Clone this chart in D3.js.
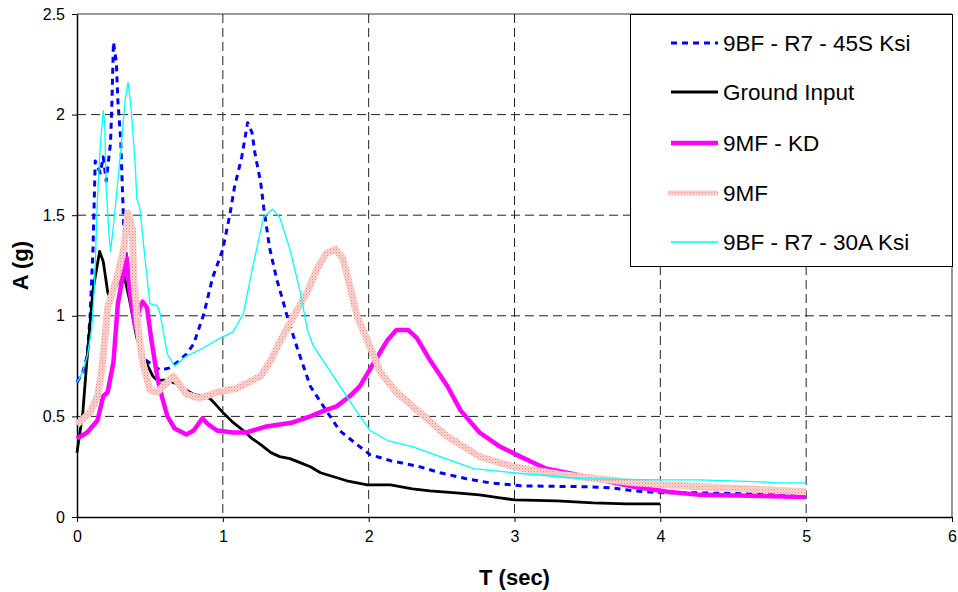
<!DOCTYPE html>
<html>
<head>
<meta charset="UTF-8">
<title></title>
<script src="https://cdnjs.cloudflare.com/ajax/libs/d3/7.8.5/d3.min.js"></script>
<style>
  body { margin: 0; background: #fff; }
  text { font-family: "Liberation Sans", Arial, sans-serif; }
</style>
</head>
<body>
<script>

// [T (sec), A (g)]
var bf45 = [[0,0.67],[0.04,0.72],[0.07,0.8],[0.09,1.0],[0.11,1.34],[0.125,1.77],[0.16,1.71],[0.18,1.79],[0.2,1.67],[0.23,1.86],[0.24,2.07],[0.25,2.36],[0.27,2.26],[0.28,2.07],[0.3,1.87],[0.31,1.66],[0.32,1.45],[0.35,1.2],[0.39,0.98],[0.43,0.85],[0.47,0.78],[0.53,0.75],[0.57,0.73],[0.63,0.74],[0.69,0.77],[0.75,0.81],[0.8,0.86],[0.87,1.01],[0.93,1.19],[1.0,1.33],[1.05,1.51],[1.08,1.64],[1.13,1.79],[1.17,1.96],[1.2,1.91],[1.22,1.81],[1.26,1.66],[1.28,1.54],[1.32,1.34],[1.37,1.18],[1.41,1.08],[1.44,1.0],[1.51,0.84],[1.6,0.65],[1.69,0.55],[1.8,0.43],[1.92,0.36],[2.01,0.31],[2.15,0.28],[2.22,0.27],[2.35,0.25],[2.49,0.22],[2.67,0.19],[2.83,0.17],[3.04,0.155],[3.52,0.15],[3.66,0.145],[3.82,0.13],[4.02,0.12],[4.27,0.12],[4.6,0.115],[4.84,0.11],[5.0,0.11]];

var ground = [[0,0.32],[0.04,0.52],[0.07,0.8],[0.11,1.13],[0.155,1.32],[0.18,1.27],[0.21,1.12],[0.23,1.08],[0.27,1.15],[0.32,1.21],[0.36,1.08],[0.41,0.89],[0.45,0.8],[0.48,0.76],[0.52,0.7],[0.55,0.68],[0.62,0.68],[0.69,0.66],[0.75,0.63],[0.8,0.61],[0.86,0.6],[0.91,0.59],[0.95,0.56],[1.0,0.52],[1.07,0.47],[1.14,0.43],[1.2,0.39],[1.26,0.36],[1.33,0.32],[1.39,0.3],[1.46,0.29],[1.53,0.27],[1.6,0.25],[1.67,0.22],[1.76,0.2],[1.85,0.18],[1.92,0.17],[1.99,0.16],[2.15,0.16],[2.3,0.14],[2.42,0.13],[2.6,0.12],[2.76,0.11],[2.9,0.095],[3.0,0.085],[3.29,0.08],[3.54,0.07],[3.77,0.065],[4.0,0.065]];

var mfkd = [[0,0.39],[0.07,0.42],[0.14,0.48],[0.18,0.6],[0.21,0.62],[0.25,0.77],[0.28,1.06],[0.31,1.18],[0.34,1.29],[0.36,1.13],[0.4,0.94],[0.43,1.04],[0.45,1.07],[0.48,1.04],[0.51,0.88],[0.55,0.7],[0.57,0.63],[0.62,0.5],[0.67,0.44],[0.75,0.41],[0.8,0.43],[0.86,0.49],[0.9,0.46],[0.96,0.43],[1.07,0.42],[1.16,0.42],[1.3,0.45],[1.48,0.47],[1.6,0.5],[1.7,0.53],[1.78,0.55],[1.87,0.6],[1.94,0.65],[2.03,0.76],[2.08,0.82],[2.13,0.88],[2.19,0.93],[2.27,0.93],[2.33,0.89],[2.42,0.78],[2.54,0.65],[2.63,0.53],[2.76,0.42],[2.9,0.35],[3.04,0.3],[3.13,0.27],[3.22,0.24],[3.36,0.22],[3.59,0.185],[3.82,0.15],[4.05,0.125],[4.27,0.11],[4.62,0.105],[5.0,0.1]];

var mf = [[0,0.46],[0.09,0.52],[0.14,0.6],[0.17,0.73],[0.19,0.88],[0.21,1.04],[0.27,1.18],[0.32,1.33],[0.35,1.51],[0.38,1.43],[0.39,1.18],[0.42,0.93],[0.45,0.77],[0.5,0.63],[0.55,0.62],[0.59,0.65],[0.66,0.7],[0.71,0.65],[0.75,0.61],[0.84,0.59],[0.96,0.62],[1.1,0.64],[1.26,0.7],[1.33,0.78],[1.39,0.87],[1.48,0.99],[1.58,1.12],[1.65,1.24],[1.71,1.31],[1.77,1.33],[1.82,1.29],[1.85,1.21],[1.89,1.09],[1.92,1.0],[1.99,0.88],[2.08,0.72],[2.19,0.62],[2.35,0.52],[2.54,0.4],[2.76,0.3],[2.99,0.25],[3.33,0.21],[3.82,0.17],[4.27,0.15],[4.73,0.135],[5.0,0.125]];

var bf30 = [[0,0.67],[0.04,0.72],[0.07,0.8],[0.1,0.93],[0.12,1.15],[0.14,1.58],[0.16,1.85],[0.18,2.02],[0.19,1.96],[0.2,1.64],[0.22,1.4],[0.23,1.32],[0.25,1.45],[0.28,1.67],[0.3,1.82],[0.33,2.07],[0.35,2.16],[0.37,2.04],[0.4,1.74],[0.41,1.58],[0.43,1.54],[0.47,1.26],[0.5,1.06],[0.55,1.05],[0.57,1.01],[0.62,0.81],[0.67,0.75],[0.75,0.8],[0.84,0.83],[0.96,0.88],[1.07,0.92],[1.14,1.01],[1.21,1.26],[1.28,1.49],[1.34,1.53],[1.39,1.49],[1.46,1.33],[1.53,1.12],[1.58,0.93],[1.62,0.85],[1.74,0.72],[1.85,0.6],[1.94,0.5],[2.01,0.43],[2.13,0.38],[2.3,0.35],[2.49,0.3],[2.72,0.24],[2.99,0.22],[3.47,0.19],[4.0,0.185],[4.27,0.185],[4.68,0.175],[4.8,0.17],[5.0,0.17]];

var seriesNames = ["9BF - R7 - 45S Ksi", "Ground Input", "9MF - KD", "9MF", "9BF - R7 - 30A Ksi"];
var xTicks = [0, 1, 2, 3, 4, 5, 6];
var yTicks = [0, 0.5, 1, 1.5, 2, 2.5];

var width = 958, height = 592;
var pLeft = 77, pRight = 952, pTop = 14, pBottom = 517;

var svg = d3.select("body").append("svg")
    .attr("width", width)
    .attr("height", height);

// hatched pattern for the 9MF line (light salmon with scattered red dots)
var defs = svg.append("defs");
var pat = defs.append("pattern")
    .attr("id", "hatch")
    .attr("patternUnits", "userSpaceOnUse")
    .attr("width", 3)
    .attr("height", 3);
pat.append("rect").attr("width", 3).attr("height", 3).attr("fill", "#fbd4d0");
pat.append("rect").attr("x", 0).attr("y", 0).attr("width", 1).attr("height", 1).attr("fill", "#f08a86");
pat.append("rect").attr("x", 1.5).attr("y", 1.5).attr("width", 1).attr("height", 1).attr("fill", "#f4a4a0");

var x = d3.scaleLinear().domain([0, 6]).range([pLeft, pRight]);
var y = d3.scaleLinear().domain([0, 2.5]).range([pBottom, pTop]);

// grid
svg.append("g").selectAll("line")
    .data(yTicks.filter(function(d){ return d > 0 && d < 2.5; }))
    .enter().append("line")
    .attr("x1", pLeft).attr("x2", pRight)
    .attr("y1", function(d){ return y(d); })
    .attr("y2", function(d){ return y(d); })
    .attr("stroke", "#222")
    .attr("stroke-dasharray", "9,5");

svg.append("g").selectAll("line")
    .data(xTicks.filter(function(d){ return d > 0 && d < 6; }))
    .enter().append("line")
    .attr("y1", pTop).attr("y2", pBottom)
    .attr("x1", function(d){ return x(d); })
    .attr("x2", function(d){ return x(d); })
    .attr("stroke", "#222")
    .attr("stroke-dasharray", "9,5");

// top / right frame
svg.append("line").attr("x1", pLeft).attr("x2", pRight).attr("y1", pTop).attr("y2", pTop)
    .attr("stroke", "#333");
svg.append("line").attr("x1", pRight).attr("x2", pRight).attr("y1", pTop).attr("y2", pBottom)
    .attr("stroke", "#333");

// axes
var xAxis = svg.append("g")
    .attr("transform", "translate(0," + pBottom + ")")
    .call(d3.axisBottom(x).tickValues(xTicks).tickFormat(d3.format("d")).tickSizeInner(5).tickSizeOuter(0).tickPadding(9));
var yAxis = svg.append("g")
    .attr("transform", "translate(" + pLeft + ",0)")
    .call(d3.axisLeft(y).tickValues(yTicks).tickFormat(function(d){ return String(d); }).tickSizeInner(5).tickSizeOuter(0).tickPadding(7));

[xAxis, yAxis].forEach(function(a){
    a.attr("font-size", 16).attr("font-family", "Liberation Sans, Arial, sans-serif");
    a.select(".domain").attr("stroke", "#000").attr("stroke-width", 1.5);
    a.selectAll(".tick line").attr("stroke", "#000");
    a.selectAll("text").attr("fill", "#000");
});

svg.append("text")
    .attr("x", (pLeft + pRight) / 2).attr("y", 585)
    .attr("text-anchor", "middle")
    .attr("font-size", 22).attr("font-weight", "bold")
    .text("T (sec)");

svg.append("text")
    .attr("transform", "translate(28," + ((pTop + pBottom) / 2) + ") rotate(-90)")
    .attr("text-anchor", "middle")
    .attr("font-size", 22).attr("font-weight", "bold")
    .text("A (g)");

// series
var styles = [
    { data: bf45, stroke: "#0000ff", width: 3, dash: "6,5" },
    { data: ground, stroke: "#000000", width: 2.8, dash: null },
    { data: mfkd, stroke: "#ff00ff", width: 4.5, dash: null },
    { data: mf, stroke: "url(#hatch)", width: 7, dash: null },
    { data: bf30, stroke: "#00ffff", width: 1.3, dash: null }
];

var line = d3.line()
    .x(function(d){ return x(d[0]); })
    .y(function(d){ return y(d[1]); });

styles.forEach(function(s){
    svg.append("path")
        .datum(s.data)
        .attr("d", line)
        .attr("fill", "none")
        .attr("stroke", s.stroke)
        .attr("stroke-width", s.width)
        .attr("stroke-linejoin", "round")
        .attr("stroke-dasharray", s.dash);
});

// legend
var lg = svg.append("g");
lg.append("rect")
    .attr("x", 630.5).attr("y", pTop + 0.5)
    .attr("width", 322).attr("height", 252)
    .attr("fill", "#fff").attr("stroke", "#000");

var rowY = [43, 92, 143, 193, 242];
styles.forEach(function(s, i){
    lg.append("line")
        .attr("x1", i === 3 ? 668 : 671).attr("x2", 718)
        .attr("y1", rowY[i]).attr("y2", rowY[i])
        .attr("stroke", s.stroke)
        .attr("stroke-width", i === 3 ? 5 : s.width)
        .attr("stroke-dasharray", s.dash);
    lg.append("text")
        .attr("x", 723).attr("y", rowY[i] + 8)
        .attr("font-size", 22.5)
        .text(seriesNames[i]);
});

</script>
</body>
</html>
